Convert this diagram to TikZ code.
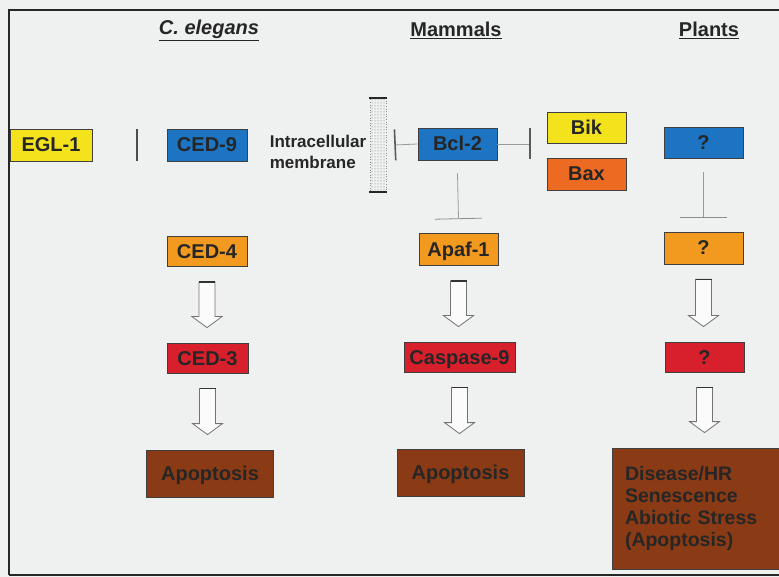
\documentclass[tikz,border=0pt]{standalone}
\usepackage{fontspec}
\setmainfont{Liberation Sans}
\usetikzlibrary{calc,patterns,arrows.meta}
\definecolor{bg}{HTML}{EEF1F0}
\definecolor{cyel}{HTML}{F4E21C}
\definecolor{cblue}{HTML}{1C74C2}
\definecolor{corange}{HTML}{F29A20}
\definecolor{cbax}{HTML}{EC6A22}
\definecolor{cred}{HTML}{D8202C}
\definecolor{cbrown}{HTML}{8A3A14}
\begin{document}
\begin{tikzpicture}[x=1pt,y=-1pt,
  box/.style={draw=black!75, line width=0.8pt, inner sep=0pt, minimum width=80pt, minimum height=32pt,
    text height=14pt, text depth=0pt,
    font=\bfseries\fontsize{20}{22}\selectfont, text=black!85},
  head/.style={font=\bfseries\fontsize{20}{22}\selectfont, text=black!85, inner sep=0pt},
  inh/.style={draw=black!40, line width=0.8pt, -{Bar[width=31pt,line width=1.6pt,color=black!65]}},
  hollow/.style={draw=black!55, line width=0.8pt, fill=white!70!bg},
  topbar/.style={draw=black!80, line width=1.6pt}
]
\newcommand{\harrow}[2]{%
  \draw[hollow] let \p1=(#1.south), \p2=(#2.north) in
    (\x1-8pt,\y1-15pt) -- (\x1+8pt,\y1-15pt) -- (\x1+8pt,\y2+26pt) -- (\x1+15pt,\y2+26pt)
    -- (\x1,\y2+15pt) -- (\x1-15pt,\y2+26pt) -- (\x1-8pt,\y2+26pt) -- cycle;
  \draw[topbar] let \p1=(#1.south) in (\x1-8pt,\y1-15pt) -- (\x1+8pt,\y1-15pt);
}
% background and frame
\fill[bg] (0,0) rectangle (779,577);
\useasboundingbox (0,0) rectangle (779,577);
\draw[black!85, line width=2pt] (9,575) -- (9,10) -- (782,10);
\draw[black!85, line width=2pt] (9,575) -- (782,575);

% headers
\node[head] (hce) at (209,30) {\underline{\itshape C. elegans}};
\node[head] (hmam) at (456,30) {\underline{Mammals}};
\node[head] (hpl) at (709,30) {\underline{Plants}};

% row 1
\node[box, fill=cyel, minimum width=82pt] (egl) at (51,145) {EGL-1};
\node[box, fill=cblue] (ced9) at (207,145) {CED-9};
\node[align=left, inner sep=0pt, font=\bfseries\fontsize{17}{21}\selectfont, text=black!85] (memtext) at (318,152) {Intracellular\\membrane};
\node[draw=black!45, dotted, line width=0.6pt, minimum width=16pt, minimum height=94pt, inner sep=0pt,
      fill=white, pattern=dots, pattern color=black!55] (mem) at (378,145) {};
\draw[black!85, line width=2pt] ([xshift=-1pt]mem.north west) -- ([xshift=1pt]mem.north east);
\draw[black!85, line width=2pt] ([xshift=-1pt]mem.south west) -- ([xshift=1pt]mem.south east);
\node[box, fill=cblue, minimum width=79pt] (bcl2) at (457.5,144) {Bcl-2};
\node[box, fill=cyel, minimum width=79pt, minimum height=31pt] (bik) at (586.5,128) {Bik};
\node[box, fill=cbax, minimum width=79pt] (bax) at (586.5,174) {Bax};
\node[box, fill=cblue, minimum width=79pt, minimum height=31pt] (pq1) at (703.5,142.5) {?};

% row 2
\node[box, fill=corange, minimum height=30pt] (ced4) at (207,251.5) {CED-4};
\node[box, fill=corange, minimum width=79pt] (apaf) at (458.5,249.5) {Apaf-1};
\node[box, fill=corange, minimum width=79pt] (pq2) at (703.5,248) {?};

% row 3
\node[box, fill=cred, minimum width=81pt, minimum height=30pt] (ced3) at (207.5,358) {CED-3};
\node[box, fill=cred, minimum width=111pt, minimum height=30pt] (casp) at (459.5,357) {Caspase-9};
\node[box, fill=cred, minimum width=79pt, minimum height=30pt] (pq3) at (704.5,357) {?};

% row 4
\node[box, fill=cbrown, minimum width=127pt, minimum height=47pt] (apo1) at (210,473.5) {Apoptosis};
\node[box, fill=cbrown, minimum width=127pt, minimum height=47pt] (apo2) at (460.5,472.5) {Apoptosis};
\node[box, fill=cbrown, minimum width=167pt, minimum height=121pt, align=left, text width=141pt,
      text height=, text depth=,
      font=\bfseries\fontsize{19.5}{22}\selectfont] (pbig) at (695.5,508.5)
      {Disease/HR\\Senescence\\Abiotic Stress\\(Apoptosis)};

% inhibition connectors
\draw[black!70, line width=1.6pt] ($(egl.east)!0.6!(ced9.west)+(0,-16)$) -- ($(egl.east)!0.6!(ced9.west)+(0,16)$);
\draw[inh] (bcl2.west) -- ($(mem.east)+(8,0)$);
\draw[inh] (bcl2.east) -- ($(bcl2.east -| bik.west)+(-16,0)$);
\draw[inh, -{Bar[width=47pt,line width=0.8pt,color=black!45]}] ($(bcl2.south)+(0,13)$) -- ($(apaf.north)+(0,-14)$);
\draw[inh, -{Bar[width=47pt,line width=0.8pt,color=black!45]}] ($(pq1.south)+(0,14)$) -- ($(pq2.north)+(0,-14)$);

% activation (hollow arrows)
\harrow{ced4}{ced3}
\harrow{ced3}{apo1}
\harrow{apaf}{casp}
\harrow{casp}{apo2}
\harrow{pq2}{pq3}
\harrow{pq3}{pbig}
\end{tikzpicture}
\end{document}
